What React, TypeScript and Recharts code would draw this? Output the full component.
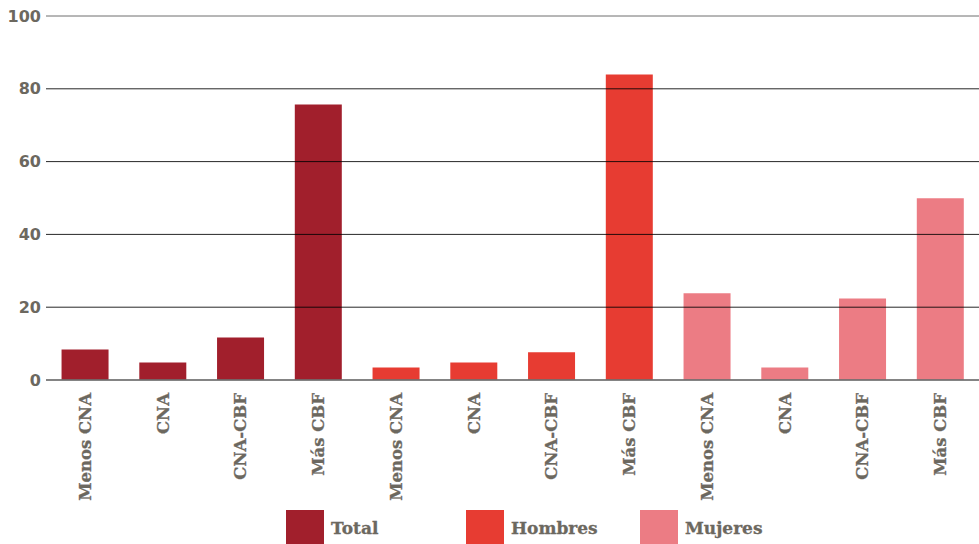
import React from "react";
import { BarChart, Bar, XAxis, YAxis, Legend, ReferenceLine } from "recharts";

const categories = ["Menos CNA", "CNA", "CNA-CBF", "Más CBF"];
const totalValues = [8.4, 4.8, 11.7, 75.7];
const hombresValues = [3.4, 4.8, 7.6, 83.9];
const mujeresValues = [23.8, 3.4, 22.4, 49.9];
const yTicks = [0, 20, 40, 60, 80, 100];
const seriesNames = ["Total", "Hombres", "Mujeres"];
const seriesColors = ["#A11F2C", "#E73C32", "#EC7C84"];

const data = [
  ...categories.map((c, i) => ({ id: "t" + i, label: c, total: totalValues[i], hombres: null, mujeres: null })),
  ...categories.map((c, i) => ({ id: "h" + i, label: c, total: null, hombres: hombresValues[i], mujeres: null })),
  ...categories.map((c, i) => ({ id: "m" + i, label: c, total: null, hombres: null, mujeres: mujeresValues[i] })),
];

const TEXT = "#6C685F";

const XTick = (props: any) => {
  const { x, y, payload } = props;
  const row = data[payload.index];
  const ty = y + 11;
  return (
    <text
      x={x}
      y={ty}
      transform={`rotate(-90, ${x}, ${ty})`}
      textAnchor="end"
      dy="0.36em"
      fill={TEXT}
      stroke={TEXT}
      strokeWidth={0.3}
      fontFamily="'DejaVu Serif', serif"
      fontWeight="bold"
      fontSize={16.5}
    >
      {row ? row.label : ""}
    </text>
  );
};

const itemWidths = [180, 174, 150];

const LegendContent = (props: any) => {
  const { payload } = props;
  const items = [...(payload || [])].sort(
    (a: any, b: any) => seriesNames.indexOf(a.value) - seriesNames.indexOf(b.value)
  );
  return (
    <div style={{ display: "flex", paddingLeft: 286, height: 34 }}>
      {items.map((e: any, i: number) => (
        <div key={i} style={{ display: "flex", width: itemWidths[i], alignItems: "flex-start" }}>
          <div style={{ width: 38, height: 34, background: e.color }} />
          <span
            style={{
              marginLeft: 7,
              marginTop: 7,
              fontFamily: "'DejaVu Serif', serif",
              fontWeight: "bold",
              fontSize: 17,
              color: TEXT,
              lineHeight: "22px",
              WebkitTextStroke: "0.3px " + TEXT,
            }}
          >
            {e.value}
          </span>
        </div>
      ))}
    </div>
  );
};

export default function App() {
  return (
    <div style={{ position: "absolute", left: 0, top: 0, width: 979, height: 544, background: "#fff" }}>
      <BarChart
        width={979}
        height={544}
        data={data}
        margin={{ top: 16, right: 0, bottom: 0, left: 0 }}
        barCategoryGap="20%"
      >
        <XAxis
          dataKey="id"
          interval={0}
          axisLine={false}
          tickLine={false}
          tickSize={0}
          height={130}
          tick={<XTick />}
        />
        <YAxis
          domain={[0, 100]}
          ticks={yTicks}
          width={46}
          axisLine={false}
          tickLine={false}
          tickSize={5}
          tickMargin={0}
          tick={{ fill: TEXT, fontFamily: "'DejaVu Sans', sans-serif", fontWeight: "bold", fontSize: 16 }}
        />
        <Bar dataKey="total" name={seriesNames[0]} stackId="a" fill={seriesColors[0]} isAnimationActive={false} />
        <Bar dataKey="hombres" name={seriesNames[1]} stackId="a" fill={seriesColors[1]} isAnimationActive={false} />
        <Bar dataKey="mujeres" name={seriesNames[2]} stackId="a" fill={seriesColors[2]} isAnimationActive={false} />
        {yTicks.map((t) => (
          <ReferenceLine
            key={t}
            y={t}
            stroke={t === 0 ? "#6f6f6f" : t === 100 ? "#555" : "#000"}
            strokeOpacity={0.85}
            strokeWidth={t === 0 ? 2 : 1}
          />
        ))}
        <Legend verticalAlign="bottom" content={<LegendContent />} wrapperStyle={{ left: 0, width: 979 }} />
      </BarChart>
    </div>
  );
}
